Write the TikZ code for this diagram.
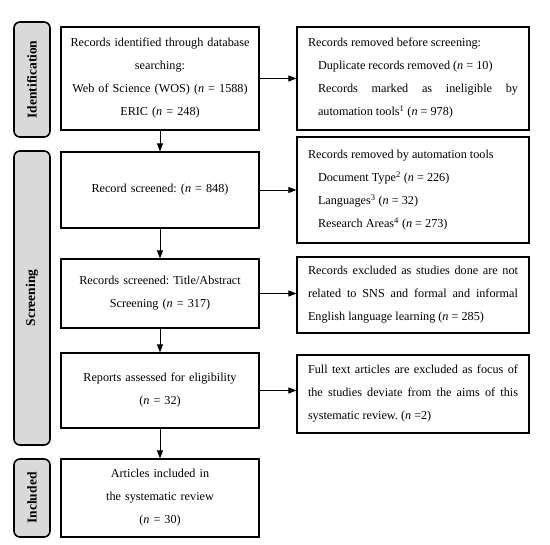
\documentclass[tikz,border=0pt]{standalone}
\usepackage{fontspec}
\setmainfont{Liberation Serif}
\usetikzlibrary{arrows.meta}
\setlength\parindent{0pt}
\frenchspacing

\tikzset{
  >={Triangle[length=8pt,width=6pt]},
  link/.style={->, line width=0.8pt},
  mainbox/.style={draw, line width=1.2pt, minimum width=198pt, text width=194pt,
    align=center, inner sep=0pt, font=\fontsize{12.2}{23}\selectfont},
  sidebox/.style={draw, line width=1.6pt, rounded corners=6pt, fill=gray!30,
    rotate=90, minimum height=36pt, inner sep=0pt, font=\bfseries\fontsize{13.5}{14}\selectfont},
  notebox/.style={draw, line width=1.2pt, minimum width=232pt, text width=210pt,
    align=justify, inner sep=0pt, font=\fontsize{12.2}{23}\selectfont},
}

\begin{document}
\begin{tikzpicture}[x=1pt,y=-1pt]
    \useasboundingbox (0,0) rectangle (550,545);

    % side labels
    \node[sidebox, minimum width=115pt] (sid) at (32,79.5) {Identification};
    \node[sidebox, minimum width=294pt] (sscr) at (32,298) {Screening};
    \node[sidebox, minimum width=78pt] (sinc) at (32,498) {Included};

    % main column
    \node[mainbox, minimum height=103pt] (ident) at (160,78.5)
        {Records identified through database\\ searching:\\ Web of Science (WOS) (\textit{n} = 1588)\\ ERIC (\textit{n} = 248)};
    \node[mainbox, minimum height=76pt] (screen) at (160,190)
        {Record screened: (\textit{n} = 848)};
    \node[mainbox, minimum height=69pt] (title) at (160,293.5)
        {Records screened: Title/Abstract\\ Screening (\textit{n} = 317)};
    \node[mainbox, minimum height=75pt] (elig) at (160,390.5)
        {Reports assessed for eligibility\\ (\textit{n} = 32)};
    \node[mainbox, minimum height=78pt] (incl) at (160,498)
        {Articles included in\\ the systematic review\\ (\textit{n} = 30)};

    % removed / excluded
    \node[notebox, minimum height=103pt] (before) at (413,78.5)
        {Records removed before screening:\par
         \leftskip=10pt Duplicate records removed (\textit{n} = 10)\par
         Records marked as ineligible by\linebreak automation tools\textsuperscript{1} (\textit{n} = 978)\par};
    \node[notebox, minimum height=106pt] (auto) at (413,190)
        {Records removed by automation tools\par
         \leftskip=10pt Document Type\textsuperscript{2} (\textit{n} = 226)\par
         Languages\textsuperscript{3} (\textit{n} = 32)\par
         Research Areas\textsuperscript{4} (\textit{n} = 273)\par};
    \node[notebox, minimum height=76pt] (notrel) at (413,295)
        {Records excluded as studies done are not\linebreak related to SNS and formal and informal\linebreak English language learning (\textit{n} = 285)\par};
    \node[notebox, minimum height=78pt] (fulltext) at (413,394)
        {Full text articles are excluded as focus of\linebreak the studies deviate from the aims of this\linebreak systematic review. (\textit{n} =2)\par};

    % arrows
    \draw[link] (ident) -- (screen);
    \draw[link] (screen) -- (title);
    \draw[link] (title) -- (elig);
    \draw[link] (elig) -- (incl);

    \draw[link] (ident) -- (before);
    \draw[link] (screen) -- (auto);
    \draw[link] (title.east) -- (title.east -| notrel.west);
    \draw[link] (elig.east) -- (elig.east -| fulltext.west);

\end{tikzpicture}
\end{document}
